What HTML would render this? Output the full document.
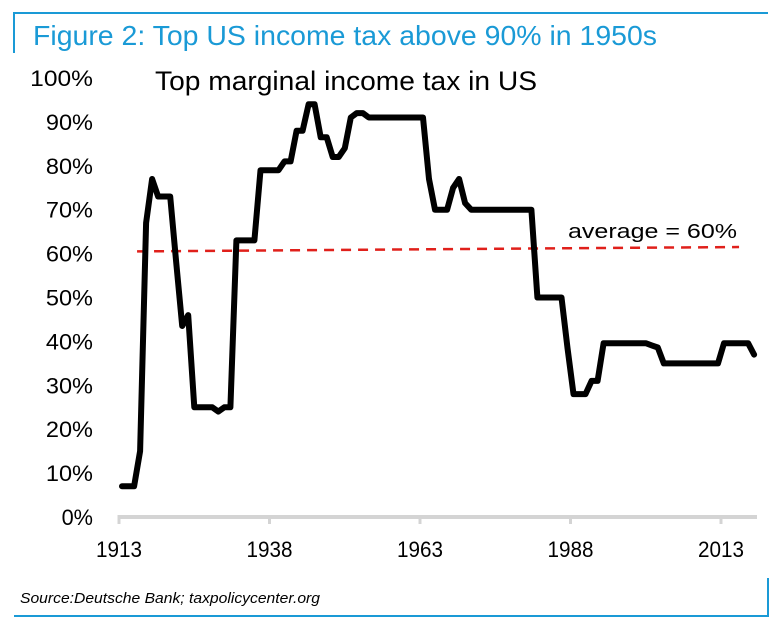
<!DOCTYPE html>
<html><head><meta charset="utf-8"><style>
html,body{margin:0;padding:0;background:#fff;width:782px;height:625px;overflow:hidden}
svg{display:block}
text{font-family:"Liberation Sans",Arial,sans-serif}
</style></head><body>
<svg id="chart" width="782" height="625" viewBox="0 0 782 625">
<line x1="14" y1="13" x2="768" y2="13" stroke="#1a9ad6" stroke-width="2"/>
<line x1="14" y1="12" x2="14" y2="53" stroke="#1a9ad6" stroke-width="2"/>
<text x="33" y="45" font-size="28" fill="#1a9ad6" textLength="624" lengthAdjust="spacingAndGlyphs">Figure 2: Top US income tax above 90% in 1950s</text>
<text x="155" y="90" font-size="27" fill="#000" textLength="382" lengthAdjust="spacingAndGlyphs">Top marginal income tax in US</text>
<g id="yticks"></g>
<g id="xaxis"></g>
<g id="avg"></g>
<g id="series"></g>
<text x="20" y="603" font-size="15" font-style="italic" fill="#000" textLength="300" lengthAdjust="spacingAndGlyphs">Source:Deutsche Bank; taxpolicycenter.org</text>
<line x1="14" y1="616" x2="769" y2="616" stroke="#1a9ad6" stroke-width="2"/>
<line x1="768" y1="578" x2="768" y2="617" stroke="#1a9ad6" stroke-width="2"/>
</svg>
<script>
const years=[1913,1914,1915,1916,1917,1918,1919,1920,1921,1922,1923,1924,1925,1926,1927,1928,1929,1930,1931,1932,1933,1934,1935,1936,1937,1938,1939,1940,1941,1942,1943,1944,1945,1946,1947,1948,1949,1950,1951,1952,1953,1954,1955,1956,1957,1958,1959,1960,1961,1962,1963,1964,1965,1966,1967,1968,1969,1970,1971,1972,1973,1974,1975,1976,1977,1978,1979,1980,1981,1982,1983,1984,1985,1986,1987,1988,1989,1990,1991,1992,1993,1994,1995,1996,1997,1998,1999,2000,2001,2002,2003,2004,2005,2006,2007,2008,2009,2010,2011,2012,2013,2014,2015,2016,2017,2018];
const rates=[7,7,7,15,67,77,73,73,73,58,43.5,46,25,25,25,25,24,25,25,63,63,63,63,79,79,79,79,81,81,88,88,94,94,86.5,86.5,82,82,84,91,92,92,91,91,91,91,91,91,91,91,91,91,77,70,70,70,75,77,71.5,70,70,70,70,70,70,70,70,70,70,70,50,50,50,50,50,38.5,28,28,28,31,31,39.6,39.6,39.6,39.6,39.6,39.6,39.6,39.6,39.1,38.6,35,35,35,35,35,35,35,35,35,35,39.6,39.6,39.6,39.6,39.6,37];
const yTicks=[0,10,20,30,40,50,60,70,80,90,100];
const xTicks=[1913,1938,1963,1988,2013];
const avgStart=[1916,60.5];
const avgEnd=[2016,61.5];
const avgLabel="average = 60%";
const NS="http://www.w3.org/2000/svg";
const X=y=>119+(y-1913)*6.02;
const Y=v=>517-v*4.39;
function mk(tag,attrs,parent,txt){const e=document.createElementNS(NS,tag);for(const k in attrs)e.setAttribute(k,attrs[k]);if(txt!==undefined)e.textContent=txt;parent.appendChild(e);return e;}
const yg=document.getElementById('yticks');
yTicks.forEach(t=>{const s=t+'%';const e=mk('text',{x:93,y:Y(t)+8,'font-size':22,'text-anchor':'end',fill:'#000',textLength:s.length*15.7,lengthAdjust:'spacingAndGlyphs'},yg,s);

});
const xg=document.getElementById('xaxis');
const ax=mk('line',{x1:X(1913),y1:517,x2:757,y2:517,stroke:'#d4d4d4','stroke-width':4},xg);


xTicks.forEach(t=>{const tk=mk('line',{x1:X(t),y1:515,x2:X(t),y2:524,stroke:'#d4d4d4','stroke-width':3},xg);


const e=mk('text',{x:X(t),y:557,'font-size':22,'text-anchor':'middle',fill:'#000',textLength:46,lengthAdjust:'spacingAndGlyphs'},xg,t);

});
const ag=document.getElementById('avg');
const al=mk('line',{x1:X(avgStart[0]),y1:Y(avgStart[1]),x2:X(avgEnd[0]),y2:Y(avgEnd[1]),stroke:'#e0201b','stroke-width':2.5,'stroke-dasharray':'10 7'},ag);


const at=mk('text',{x:568,y:238,'font-size':20,fill:'#000',textLength:169,lengthAdjust:'spacingAndGlyphs'},ag,avgLabel);


const sg=document.getElementById('series');
const d=years.map((y,i)=>(i?'L':'M')+X(y+0.5).toFixed(1)+','+Y(rates[i]).toFixed(1)).join(' ');
const p=mk('path',{d:d,fill:'none',stroke:'#000','stroke-width':6,'stroke-linejoin':'round','stroke-linecap':'round'},sg);


</script>
</body></html>
